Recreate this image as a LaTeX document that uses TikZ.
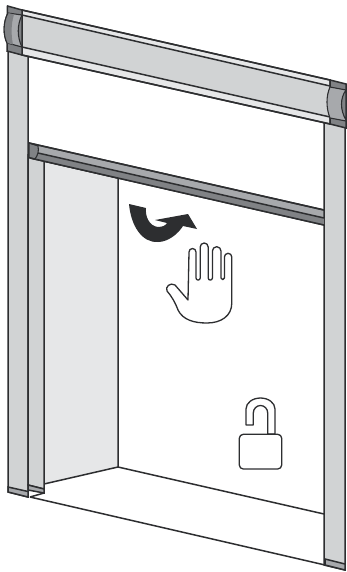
\documentclass[tikz,border=0pt]{standalone}
\definecolor{ink}{HTML}{2D2E30}
\definecolor{panel}{HTML}{D1D3D4}
\definecolor{pale}{HTML}{E6E7E8}
\definecolor{mid}{HTML}{A7A9AC}
\definecolor{steel}{HTML}{808285}
\begin{document}
\begin{tikzpicture}[
  x=1pt, y=-1pt,
  edge/.style={draw=ink, line width=1.5pt, line join=miter},
  thinedge/.style={draw=ink, line width=1.1pt, line join=round},
  icon/.style={draw=ink, line width=1.3pt, fill=white, line join=round}
]
\useasboundingbox (0,0) rectangle (347,572);
\fill[white] (0,0) rectangle (347,572);
% recess
\filldraw[fill=pale, edge] (44,161) -- (118,178) -- (118,467) -- (44,484) -- cycle;
\draw[edge] (118,467) -- (324,514);
\draw[edge] (30,497) -- (325,565);
% posts
\filldraw[fill=panel, edge] (8,50) -- (28,55) -- (28,497) -- (8,492) -- cycle;
\filldraw[fill=panel, edge] (324,122) -- (345,127) -- (345,570) -- (324,565) -- cycle;
\filldraw[fill=mid, edge] (8,487) -- (28,491.5) -- (28,497) -- (8,492) -- cycle;
\filldraw[fill=mid, edge] (325,559) -- (345,564) -- (345,570) -- (325,565) -- cycle;
% inner jamb
\filldraw[fill=panel, edge] (28,155) -- (44,159) -- (44,489) -- (28,485) -- cycle;
\filldraw[fill=mid, edge] (28,485) -- (44,489) -- (44,493) -- (28,490) -- cycle;
\draw[edge] (44,493) -- (30,497);
% housing
\filldraw[fill=pale, edge] (22,10) -- (330,80) -- (330,124) -- (22,55) -- cycle;
\fill[panel] (22,15) -- (330,86) -- (330,117) -- (22,47) -- cycle;
\draw[edge] (22,15) -- (330,86);
\draw[edge] (22,47) -- (330,117);
\draw[edge] (22,10) -- (330,80);
\draw[edge] (22,55) -- (330,124);
% left cap
\filldraw[fill=steel, edge] (7.5,6) -- (22,10) -- (22,55) -- (7,51) -- cycle;
\filldraw[fill=mid, thinedge] (8,13) .. controls (3,22) and (3,35) .. (7,43)
  -- (22,47) .. controls (17,37) and (17,25) .. (22,15) -- cycle;
\fill[steel] (8,13) .. controls (3,22) and (3,35) .. (7,43) -- (13,44.5)
  .. controls (11,35) and (11,24) .. (14,14.5) -- cycle;
\draw[thinedge] (8,13) .. controls (3,22) and (3,35) .. (7,43);
% right cap
\filldraw[fill=steel, edge] (330,80) -- (346,84) -- (346,128) -- (330,124) -- cycle;
\filldraw[fill=mid, thinedge] (330,87) .. controls (326,96) and (326,108) .. (330,118)
  -- (346,121) -- (346,90) -- cycle;
\filldraw[fill=steel, thinedge] (346,90) .. controls (340,98) and (340,110) .. (346,120) -- cycle;
% rail
\filldraw[fill=mid, edge] (29,143) -- (324,210) -- (324,225) -- (30,158) -- cycle;
\fill[steel] (36,153) -- (324,218) -- (324,225) -- (36,159) -- cycle;
\draw[edge] (38,153) -- (324,218);
\filldraw[fill=steel, thinedge] (29,143) -- (38,146) .. controls (39,151) and (38,155) .. (35,159)
  -- (29,157.5) -- cycle;
\draw[edge] (29,143) -- (324,210);
\draw[edge] (30,158) -- (324,225);
% arrow
\fill[ink] (129,204) -- (146,208) .. controls (145,216) and (149,226) .. (158,227)
  .. controls (163,227) and (166,225) .. (167,223) -- (155,220) -- (188,214) -- (197,229) -- (183,226)
  .. controls (178,234) and (168,242) .. (158,242) .. controls (142,243) and (131,226) .. (129,204) -- cycle;
% hand
\path[icon] (188,300) -- (189,252) arc[start angle=180, end angle=360, radius=3.5]
  -- (196,278) arc[start angle=180, end angle=0, radius=2.1]
  -- (200.2,247) arc[start angle=180, end angle=360, radius=4]
  -- (208.2,278) arc[start angle=180, end angle=0, radius=2.1]
  -- (212.4,251) arc[start angle=180, end angle=360, radius=4.3]
  -- (221,278) arc[start angle=180, end angle=0, radius=1.7]
  -- (224.4,257) arc[start angle=180, end angle=360, radius=3.7]
  -- (231.8,303) .. controls (231.8,316) and (221,323) .. (207,323)
  .. controls (194,323) and (183,320) .. (178,310)
  .. controls (175,302) and (172,297) .. (167,291)
  .. controls (165,287) and (170,282) .. (175,285) -- cycle;
% lock
\path[icon] (246,425) -- (246,409) arc[start angle=180, end angle=360, x radius=14.5, y radius=11]
  -- (275,434) -- (267.7,434) -- (267.7,413) arc[start angle=0, end angle=-180, x radius=7.2, y radius=7.5]
  -- (253.3,425) -- cycle;
\path[icon, rounded corners=4pt] (239.3,434.3) rectangle (281.7,469);
\end{tikzpicture}
\end{document}
